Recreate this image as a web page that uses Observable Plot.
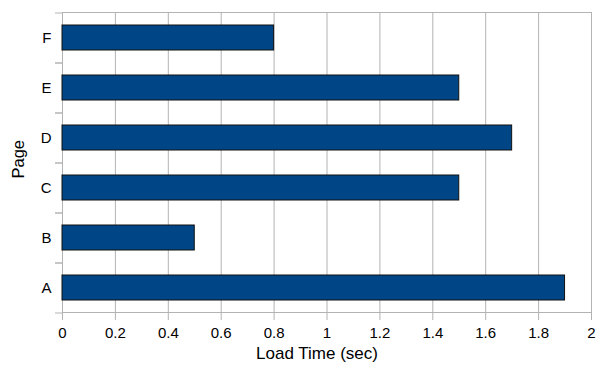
<!DOCTYPE html>
<html>
<head>
<meta charset="utf-8">
<script src="https://cdn.jsdelivr.net/npm/d3@7"></script>
<script src="https://cdn.jsdelivr.net/npm/@observablehq/plot@0.6"></script>
<style>
  html, body { margin: 0; padding: 0; background: #fff; }
  #chart svg { display: block; }
</style>
</head>
<body>
<div id="chart"></div>
<script>
const pages = ["A", "B", "C", "D", "E", "F"];
const loadTimes = [1.9, 0.5, 1.5, 1.7, 1.5, 0.8];
const xTicks = [0, 0.2, 0.4, 0.6, 0.8, 1, 1.2, 1.4, 1.6, 1.8, 2];
const xLabel = "Load Time (sec)";
const yLabel = "Page";

const data = pages.map((p, i) => ({page: p, value: loadTimes[i]}));
const grid = "#b3b3b3";

const chart = Plot.plot({
  width: 602,
  height: 371,
  marginLeft: 62,
  marginRight: 11,
  marginTop: 12,
  marginBottom: 59,
  style: {fontFamily: "'Liberation Sans', Arial, sans-serif", fontSize: "15px", color: "#000", background: "#fff"},
  x: {domain: [0, 2], label: null},
  y: {domain: pages.slice().reverse(), paddingInner: 0.5, paddingOuter: 0.25, label: null},
  marks: [
    Plot.gridX(xTicks, {stroke: grid, strokeOpacity: 1}),
    Plot.frame({stroke: grid}),
    Plot.axisX(xTicks, {tickSize: 8, tickPadding: 7, stroke: grid, tickFormat: d => String(d), fill: "#000", fontSize: 15}),
    Plot.axisY({tickSize: 0, tickPadding: 11, fill: "#000", fontSize: 15}),
    Plot.axisY({tickSize: 7, stroke: grid, dy: -25, tickFormat: () => ""}),
    Plot.axisY({tickSize: 7, stroke: grid, dy: 25, tickFormat: () => ""}),
    Plot.barX(data, {y: "page", x: "value", fill: "#004586", stroke: "#111", strokeWidth: 1}),
    Plot.text([xLabel], {frameAnchor: "bottom", dx: -10, dy: 46, fill: "#000", fontSize: 17}),
    Plot.text([yLabel], {frameAnchor: "left", dx: -44, dy: 16, rotate: -90, fill: "#000", fontSize: 16.5})
  ]
});
document.getElementById("chart").appendChild(chart);
</script>
</body>
</html>
